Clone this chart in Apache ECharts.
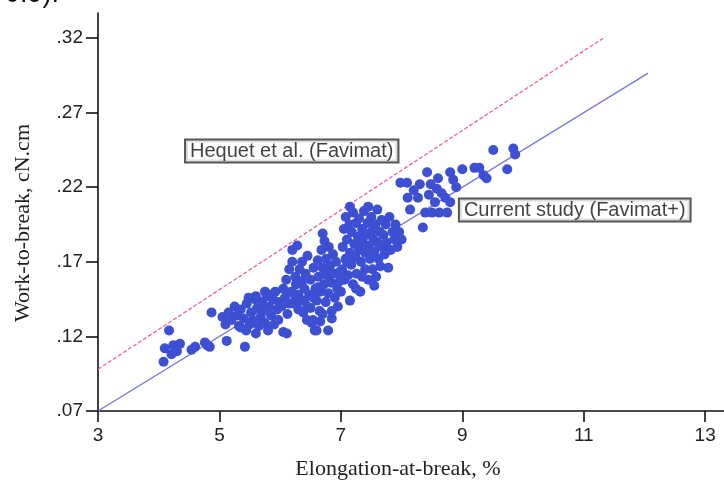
<!DOCTYPE html>
<html>
<head>
<meta charset="utf-8">
<title>Work-to-break vs elongation-at-break</title>
<script src="https://cdn.jsdelivr.net/npm/echarts@6/dist/echarts.min.js"></script>
<style>
  html, body { margin: 0; padding: 0; background: #ffffff; }
  #chart { width: 724px; height: 494px; }
</style>
</head>
<body>
<div id="chart"></div>
<script>
// Tick positions on both axes
const xTicks = [3, 5, 7, 9, 11, 13];
const yTicks = [0.07, 0.12, 0.17, 0.22, 0.27, 0.32];

// Measured fibres: [elongation-at-break (%), work-to-break (cN.cm)]
const lowElongation = [
  [4.08,0.103],[4.21,0.108],[4.10,0.112],[4.24,0.114],[4.35,0.115],[4.17,0.124],[4.30,0.110],
  [4.54,0.111],[4.60,0.113],[4.76,0.116],[4.84,0.113],[4.80,0.114],[4.87,0.136]
];
const midElongation = [
  [5.12,0.117],[5.05,0.133],[5.10,0.128],[5.15,0.136],[5.20,0.131],[5.25,0.140],[5.29,0.134],
  [5.32,0.127],[5.35,0.138],[5.40,0.132],[5.42,0.113],[5.44,0.124],[5.45,0.142],[5.50,0.128],
  [5.52,0.136],[5.55,0.131],[5.58,0.145],[5.60,0.122],[5.62,0.139],[5.65,0.127],[5.68,0.133],
  [5.70,0.143],[5.72,0.137],[5.75,0.129],[5.78,0.147],[5.80,0.124],[5.82,0.140],[5.85,0.134],
  [5.88,0.145],[5.90,0.128],[5.92,0.150],[5.95,0.138],[5.97,0.131],[5.60,0.147],[5.48,0.146],
  [5.35,0.126],[5.75,0.150],[5.66,0.141],[5.85,0.148],[5.98,0.143]
];
const sixToSeven = [
  [6.05,0.123],[6.11,0.122],[6.02,0.140],[6.05,0.152],[6.08,0.146],[6.10,0.158],[6.12,0.135],
  [6.15,0.165],[6.18,0.150],[6.20,0.178],[6.20,0.170],[6.22,0.142],[6.25,0.160],[6.26,0.155],
  [6.28,0.181],[6.30,0.138],[6.30,0.148],[6.32,0.165],[6.35,0.157],[6.36,0.170],[6.38,0.136],
  [6.40,0.144],[6.40,0.152],[6.42,0.162],[6.44,0.131],[6.45,0.174],[6.48,0.148],[6.50,0.139],
  [6.50,0.158],[6.52,0.129],[6.54,0.131],[6.55,0.166],[6.57,0.124],[6.58,0.152],[6.60,0.124],
  [6.60,0.144],[6.62,0.171],[6.63,0.160],[6.65,0.137],[6.66,0.150],[6.68,0.178],[6.70,0.189],
  [6.70,0.166],[6.72,0.155],[6.73,0.184],[6.75,0.143],[6.76,0.172],[6.77,0.161],[6.79,0.124],
  [6.79,0.149],[6.80,0.180],[6.82,0.167],[6.84,0.156],[6.85,0.137],[6.87,0.175],[6.88,0.162],
  [6.90,0.146],[6.92,0.170],[6.94,0.152],[6.95,0.140],[6.97,0.163],[6.98,0.157],[6.70,0.135],
  [6.35,0.144],[6.15,0.142],[6.25,0.147],[6.45,0.140],[6.55,0.146],[6.62,0.153],[6.73,0.165],
  [6.66,0.130],[6.85,0.132]
];
const sevenToEight = [
  [7.00,0.150],[7.02,0.165],[7.03,0.180],[7.05,0.192],[7.06,0.158],[7.08,0.172],[7.08,0.200],
  [7.10,0.185],[7.12,0.161],[7.14,0.195],[7.15,0.144],[7.15,0.176],[7.17,0.168],[7.18,0.190],
  [7.20,0.155],[7.20,0.203],[7.22,0.182],[7.24,0.173],[7.25,0.196],[7.26,0.162],[7.28,0.187],
  [7.30,0.178],[7.30,0.199],[7.32,0.150],[7.33,0.170],[7.35,0.192],[7.36,0.183],[7.38,0.204],
  [7.40,0.165],[7.40,0.176],[7.42,0.188],[7.44,0.196],[7.45,0.158],[7.46,0.181],[7.48,0.172],
  [7.50,0.200],[7.50,0.190],[7.52,0.165],[7.54,0.185],[7.55,0.177],[7.57,0.195],[7.58,0.160],
  [7.60,0.205],[7.60,0.183],[7.62,0.172],[7.64,0.190],[7.65,0.167],[7.67,0.198],[7.68,0.180],
  [7.70,0.188],[7.72,0.175],[7.74,0.195],[7.75,0.183],[7.78,0.166],[7.80,0.200],[7.82,0.178],
  [7.85,0.190],[7.88,0.185],[7.90,0.195],[7.93,0.180],[7.96,0.190],[8.00,0.185],[7.15,0.207],
  [7.45,0.207],[7.10,0.170],[7.25,0.152],[7.35,0.160],[7.55,0.154]
];
const highElongation = [
  [7.98,0.223],[8.09,0.223],[8.10,0.213],[8.14,0.205],[8.20,0.218],[8.27,0.213],[8.35,0.193],
  [8.39,0.203],[8.42,0.230],[8.48,0.222],[8.50,0.203],[8.58,0.219],[8.60,0.226],[8.62,0.203],
  [8.66,0.216],[8.72,0.213],[8.75,0.203],[8.80,0.230],[8.85,0.225],[8.80,0.210],[8.90,0.220],
  [9.20,0.233],[9.28,0.233],[9.35,0.228],[9.40,0.226],[9.51,0.245],[9.74,0.232],[9.84,0.246],
  [9.87,0.242],[8.30,0.222],[8.55,0.210],[8.45,0.215],[9.00,0.232]
];

// Fitted relationships (end points of each line)
const currentFit = [[3, 0.07], [12.06, 0.2965]];
const hequetFit = [[3, 0.098], [11.35, 0.3207]];

// Line annotations: anchor = left-middle of each text box
const hequetLabel = { text: 'Hequet et al. (Favimat)', at: [4.45, 0.2443] };
const currentLabel = { text: 'Current study (Favimat+)', at: [8.96, 0.2047] };

const fibres = [].concat(lowElongation, midElongation, sixToSeven, sevenToEight, highElongation);

const tickFont = { fontFamily: 'Liberation Sans, Arial, sans-serif', fontSize: 19, color: '#222' };
const boxLabel = {
  show: true,
  position: 'right',
  distance: 0,
  fontFamily: 'Liberation Sans, Arial, sans-serif',
  fontSize: 20,
  color: '#111',
  backgroundColor: '#ffffff',
  borderColor: '#2a2a2a',
  borderWidth: 2,
  padding: [1, 4, 0, 4],
  formatter: function (p) { return p.data.name; }
};

const chart = echarts.init(document.getElementById('chart'), null, { renderer: 'canvas' });
chart.setOption({
  animation: false,
  backgroundColor: '#ffffff',
  grid: { left: 98, right: 0, top: 13, bottom: 83 },
  xAxis: {
    type: 'value',
    min: 3,
    max: 13.31,
    splitLine: { show: false },
    axisLine: { onZero: false, lineStyle: { color: '#111', width: 1.6 } },
    axisTick: { customValues: xTicks, length: 11, lineStyle: { color: '#111', width: 1.6 } },
    axisLabel: Object.assign({ customValues: xTicks, margin: 15 }, tickFont)
  },
  yAxis: {
    type: 'value',
    min: 0.07,
    max: 0.3368,
    splitLine: { show: false },
    axisLine: { onZero: false, lineStyle: { color: '#111', width: 1.6 } },
    axisTick: { customValues: yTicks, length: 12, lineStyle: { color: '#111', width: 1.6 } },
    axisLabel: Object.assign({
      customValues: yTicks,
      margin: 15,
      formatter: function (v) { return v.toFixed(2).replace(/^0/, ''); }
    }, tickFont)
  },
  graphic: [
    {
      type: 'text', x: 5, y: 8,
      style: { text: '0.9).', font: '27px "Liberation Sans", Arial, sans-serif', fill: '#111', textVerticalAlign: 'bottom' }
    },
    {
      type: 'text', x: 23, y: 223, rotation: Math.PI / 2,
      style: { text: 'Work-to-break, cN.cm', font: '22px "Liberation Serif", "Times New Roman", serif', fill: '#222', textAlign: 'center', textVerticalAlign: 'middle' }
    },
    {
      type: 'text', x: 398, y: 469,
      style: { text: 'Elongation-at-break, %', font: '22px "Liberation Serif", "Times New Roman", serif', fill: '#222', textAlign: 'center', textVerticalAlign: 'middle' }
    }
  ],
  series: [
    {
      name: 'Hequet et al. (Favimat)',
      type: 'line',
      data: hequetFit,
      symbol: 'none',
      z: 2,
      lineStyle: { color: '#e8619c', width: 1.3, type: [4, 2] }
    },
    {
      name: 'Current study (Favimat+)',
      type: 'line',
      data: currentFit,
      symbol: 'none',
      z: 2,
      lineStyle: { color: '#7878d8', width: 1.4 }
    },
    {
      name: 'Fibres',
      type: 'scatter',
      data: fibres,
      symbol: 'circle',
      symbolSize: 10,
      z: 3,
      itemStyle: { color: '#3d4fd2', opacity: 1 }
    },
    {
      name: 'Line labels',
      type: 'scatter',
      symbolSize: 0,
      z: 5,
      silent: true,
      data: [
        { name: hequetLabel.text, value: hequetLabel.at },
        { name: currentLabel.text, value: currentLabel.at }
      ],
      label: boxLabel
    }
  ]
});
</script>
</body>
</html>
